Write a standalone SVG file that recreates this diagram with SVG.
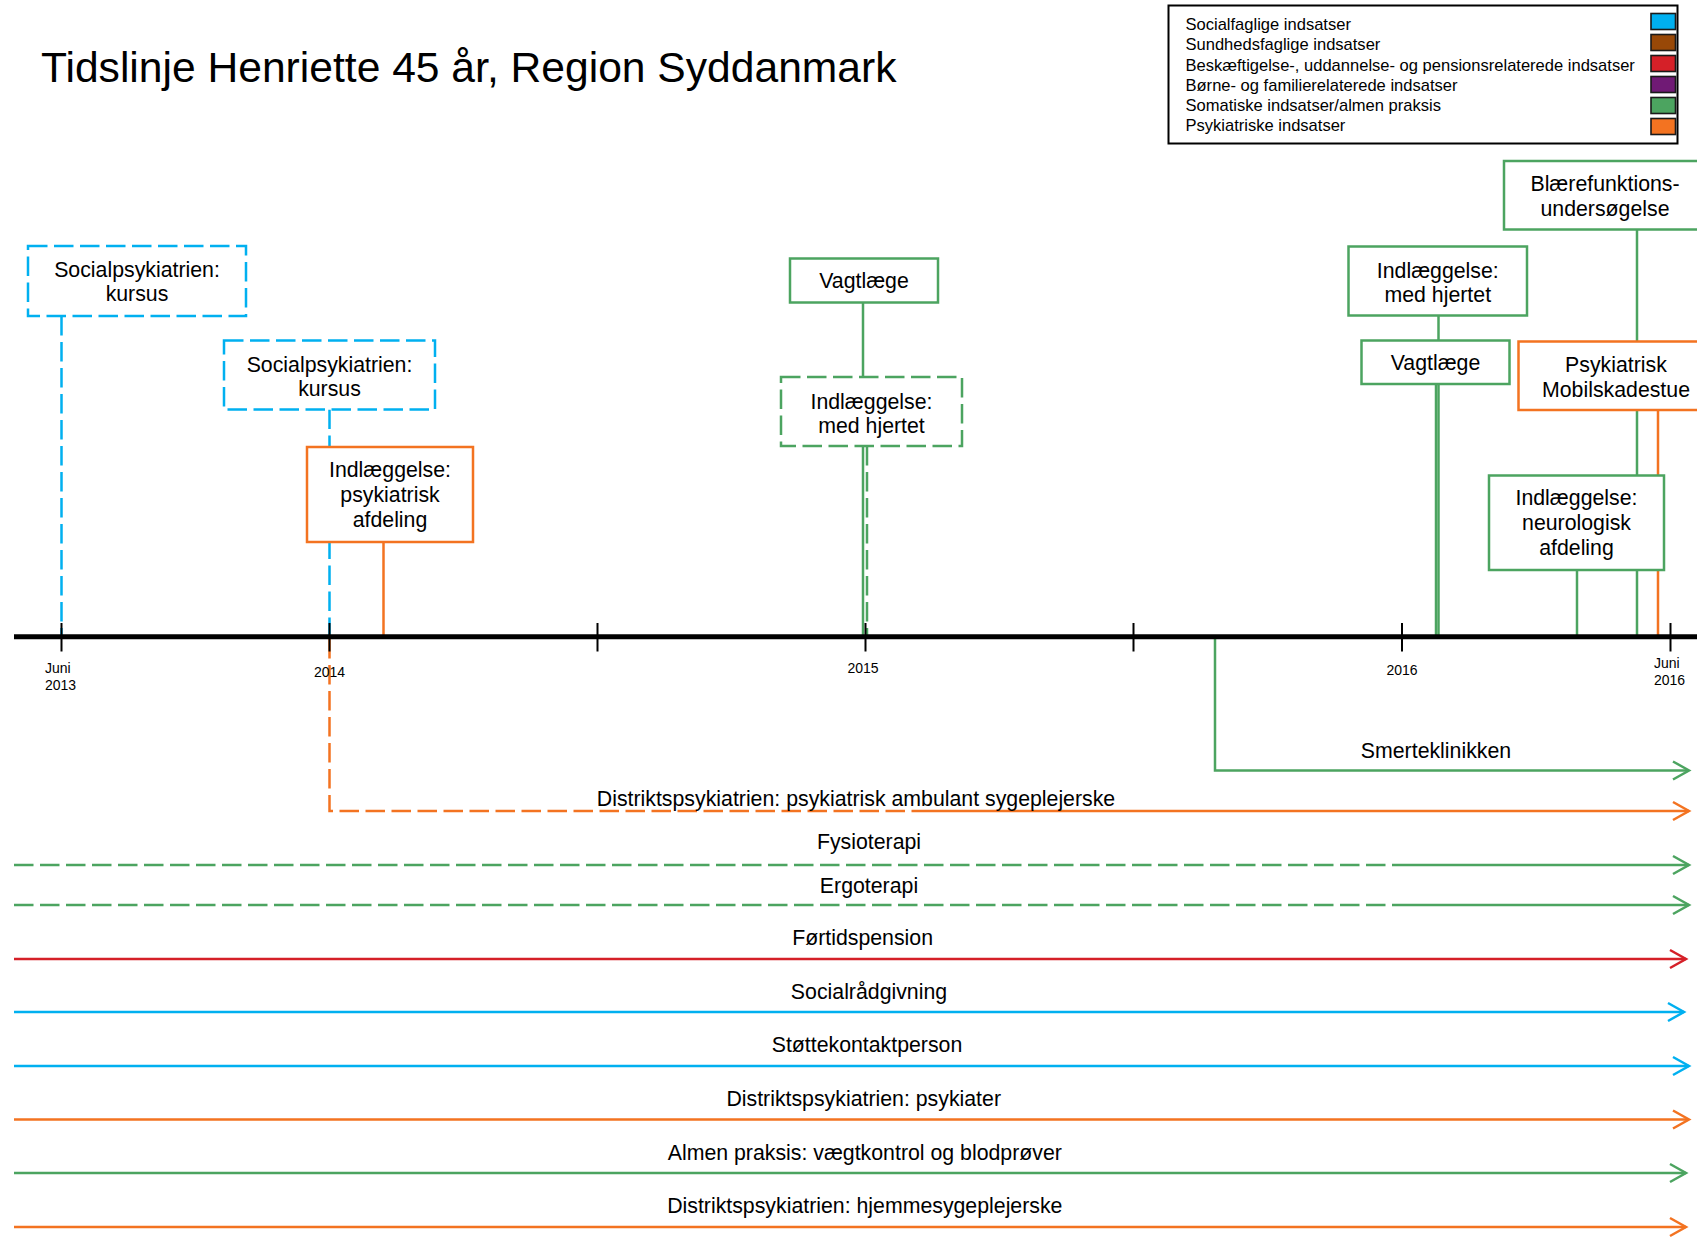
<svg xmlns="http://www.w3.org/2000/svg" width="1697" height="1238" viewBox="0 0 1697 1238">
  <style>
    text { font-family: "Liberation Sans", Arial, sans-serif; fill: #000; }
    .title { font-size: 42.6px; }
    .leg { font-size: 16.55px; }
    .lbl { font-size: 21.3px; text-anchor: middle; }
    .tick-lbl { font-size: 14px; }
    .box { fill: #fff; stroke-width: 2.5; }
    .dash { stroke-dasharray: 19.5 6.5; }
    .ln { fill: none; stroke-width: 2.5; }
    .soc { stroke: #00B0F0; }
    .som { stroke: #4CA460; }
    .psy { stroke: #F37321; }
    .bes { stroke: #D52028; }
    .swatch { stroke: #1a1a1a; stroke-width: 1.6; }
    .tick { stroke: #000; stroke-width: 2; }
  </style>
  <defs>
    <marker id="arr-som" markerUnits="userSpaceOnUse" viewBox="-20 -12 24 24" refX="0" refY="0" markerWidth="24" markerHeight="24" orient="auto">
      <path d="M-16,-9 L0,0 L-16,9" fill="none" stroke="#4CA460" stroke-width="2.5"/>
    </marker>
    <marker id="arr-psy" markerUnits="userSpaceOnUse" viewBox="-20 -12 24 24" refX="0" refY="0" markerWidth="24" markerHeight="24" orient="auto">
      <path d="M-16,-9 L0,0 L-16,9" fill="none" stroke="#F37321" stroke-width="2.5"/>
    </marker>
    <marker id="arr-soc" markerUnits="userSpaceOnUse" viewBox="-20 -12 24 24" refX="0" refY="0" markerWidth="24" markerHeight="24" orient="auto">
      <path d="M-16,-9 L0,0 L-16,9" fill="none" stroke="#00B0F0" stroke-width="2.5"/>
    </marker>
    <marker id="arr-bes" markerUnits="userSpaceOnUse" viewBox="-20 -12 24 24" refX="0" refY="0" markerWidth="24" markerHeight="24" orient="auto">
      <path d="M-16,-9 L0,0 L-16,9" fill="none" stroke="#D52028" stroke-width="2.5"/>
    </marker>
  </defs>

  <rect width="1697" height="1238" fill="#fff"/>

  <text class="title" x="41" y="82">Tidslinje Henriette 45 år, Region Syddanmark</text>

  <!-- Legend -->
  <g id="legend">
    <rect x="1168.5" y="5.5" width="509" height="138" fill="#fff" stroke="#000" stroke-width="2"/>
    <text class="leg" x="1185.5" y="30">Socialfaglige indsatser</text>
    <text class="leg" x="1185.5" y="50.3">Sundhedsfaglige indsatser</text>
    <text class="leg" x="1185.5" y="70.6">Beskæftigelse-, uddannelse- og pensionsrelaterede indsatser</text>
    <text class="leg" x="1185.5" y="90.9">Børne- og familierelaterede indsatser</text>
    <text class="leg" x="1185.5" y="111.2">Somatiske indsatser/almen praksis</text>
    <text class="leg" x="1185.5" y="131.3">Psykiatriske indsatser</text>
    <rect class="swatch" x="1651" y="13.5" width="24.5" height="16" fill="#00B0F0"/>
    <rect class="swatch" x="1651" y="34.5" width="24.5" height="16" fill="#984807"/>
    <rect class="swatch" x="1651" y="55.5" width="24.5" height="16" fill="#D52028"/>
    <rect class="swatch" x="1651" y="76.5" width="24.5" height="16" fill="#701A75"/>
    <rect class="swatch" x="1651" y="97.5" width="24.5" height="16" fill="#4CA460"/>
    <rect class="swatch" x="1651" y="118.5" width="24.5" height="16" fill="#F37321"/>
  </g>

  <!-- Connectors: event stems to the axis and ongoing services below it -->
  <g id="connectors">
    <line class="ln soc dash" x1="61.5" y1="316" x2="61.5" y2="636"/>
    <line class="ln soc dash" x1="329.5" y1="409.5" x2="329.5" y2="636"/>
    <line class="ln psy" x1="383.5" y1="542" x2="383.5" y2="636"/>
    <line class="ln som" x1="863" y1="302.5" x2="863" y2="636"/>
    <line class="ln som dash" x1="867" y1="446" x2="867" y2="636"/>
    <line class="ln som" x1="1438.5" y1="315.5" x2="1438.5" y2="636"/>
    <line class="ln som" x1="1436" y1="384" x2="1436" y2="636"/>
    <line class="ln som" x1="1637" y1="229.5" x2="1637" y2="636"/>
    <line class="ln psy" x1="1658" y1="410" x2="1658" y2="636"/>
    <line class="ln som" x1="1577" y1="570" x2="1577" y2="636"/>

    <!-- ongoing services -->
    <path class="ln som" d="M1215,639 V770.5 H1689" marker-end="url(#arr-som)"/>
    <path class="ln psy dash" d="M329.5,639 V811 H922"/>
    <path class="ln psy" d="M922,811 H1689" marker-end="url(#arr-psy)"/>
    <path class="ln som dash" d="M14,865 H1402"/>
    <path class="ln som" d="M1402,865 H1689" marker-end="url(#arr-som)"/>
    <path class="ln som dash" d="M14,905 H1402"/>
    <path class="ln som" d="M1402,905 H1689" marker-end="url(#arr-som)"/>
    <path class="ln bes" d="M14,959 H1686" marker-end="url(#arr-bes)"/>
    <path class="ln soc" d="M14,1012 H1684" marker-end="url(#arr-soc)"/>
    <path class="ln soc" d="M14,1066 H1689" marker-end="url(#arr-soc)"/>
    <path class="ln psy" d="M14,1119.5 H1689" marker-end="url(#arr-psy)"/>
    <path class="ln som" d="M14,1173 H1686" marker-end="url(#arr-som)"/>
    <path class="ln psy" d="M14,1227 H1686" marker-end="url(#arr-psy)"/>
  </g>

  <!-- Service labels -->
  <g id="service-labels">
    <text class="lbl" x="1436" y="757.5">Smerteklinikken</text>
    <text class="lbl" x="856" y="806">Distriktspsykiatrien: psykiatrisk ambulant sygeplejerske</text>
    <text class="lbl" x="869" y="848.5">Fysioterapi</text>
    <text class="lbl" x="869" y="893">Ergoterapi</text>
    <text class="lbl" x="862.6" y="944.5">Førtidspension</text>
    <text class="lbl" x="869" y="999">Socialrådgivning</text>
    <text class="lbl" x="867" y="1052">Støttekontaktperson</text>
    <text class="lbl" x="863.7" y="1106">Distriktspsykiatrien: psykiater</text>
    <text class="lbl" x="864.8" y="1160">Almen praksis: vægtkontrol og blodprøver</text>
    <text class="lbl" x="864.8" y="1213">Distriktspsykiatrien: hjemmesygeplejerske</text>
  </g>

  <!-- Time axis -->
  <g id="axis">
    <line x1="14" y1="636.7" x2="1697" y2="636.7" stroke="#000" stroke-width="5"/>
    <line class="tick" x1="61.5" y1="623" x2="61.5" y2="651.5"/>
    <line class="tick" x1="329.5" y1="623" x2="329.5" y2="651.5"/>
    <line class="tick" x1="597.5" y1="623" x2="597.5" y2="651.5"/>
    <line class="tick" x1="865.5" y1="623" x2="865.5" y2="651.5"/>
    <line class="tick" x1="1133.5" y1="623" x2="1133.5" y2="651.5"/>
    <line class="tick" x1="1402" y1="623" x2="1402" y2="651.5"/>
    <line class="tick" x1="1670.5" y1="623" x2="1670.5" y2="651.5"/>
    <text class="tick-lbl" x="45" y="673">Juni</text>
    <text class="tick-lbl" x="45" y="690">2013</text>
    <text class="tick-lbl" x="329.5" y="676.5" text-anchor="middle">2014</text>
    <text class="tick-lbl" x="863" y="673" text-anchor="middle">2015</text>
    <text class="tick-lbl" x="1402" y="675" text-anchor="middle">2016</text>
    <text class="tick-lbl" x="1654" y="668">Juni</text>
    <text class="tick-lbl" x="1654" y="685">2016</text>
  </g>

  <!-- Events -->
  <g id="socialpsyk-kursus-1">
    <rect class="box soc dash" x="28" y="246" width="218" height="70"/>
    <text class="lbl" x="137" y="277">Socialpsykiatrien:</text>
    <text class="lbl" x="137" y="301">kursus</text>
  </g>
  <g id="socialpsyk-kursus-2">
    <rect class="box soc dash" x="224" y="340.5" width="211" height="69"/>
    <text class="lbl" x="329.5" y="371.5">Socialpsykiatrien:</text>
    <text class="lbl" x="329.5" y="395.5">kursus</text>
  </g>
  <g id="indl-psyk-afdeling">
    <rect class="box psy" x="307" y="447" width="166" height="95"/>
    <text class="lbl" x="390" y="477">Indlæggelse:</text>
    <text class="lbl" x="390" y="502">psykiatrisk</text>
    <text class="lbl" x="390" y="527">afdeling</text>
  </g>
  <g id="vagtlaege-1">
    <rect class="box som" x="790" y="258.5" width="148" height="44"/>
    <text class="lbl" x="864" y="288">Vagtlæge</text>
  </g>
  <g id="indl-hjertet-1">
    <rect class="box som dash" x="781" y="377" width="181" height="69"/>
    <text class="lbl" x="871.5" y="408.5">Indlæggelse:</text>
    <text class="lbl" x="871.5" y="432.5">med hjertet</text>
  </g>
  <g id="indl-hjertet-2">
    <rect class="box som" x="1348.5" y="246.5" width="178.5" height="69"/>
    <text class="lbl" x="1437.8" y="277.5">Indlæggelse:</text>
    <text class="lbl" x="1437.8" y="301.5">med hjertet</text>
  </g>
  <g id="vagtlaege-2">
    <rect class="box som" x="1361.5" y="340.5" width="148" height="43.5"/>
    <text class="lbl" x="1435.5" y="369.8">Vagtlæge</text>
  </g>
  <g id="blaerefunktion">
    <rect class="box som" x="1504" y="161" width="202" height="68.5"/>
    <text class="lbl" x="1605" y="191">Blærefunktions-</text>
    <text class="lbl" x="1605" y="215.5">undersøgelse</text>
  </g>
  <g id="psyk-mobilskadestue">
    <rect class="box psy" x="1518.5" y="341.5" width="195" height="68.5"/>
    <text class="lbl" x="1616" y="372">Psykiatrisk</text>
    <text class="lbl" x="1616" y="396.5">Mobilskadestue</text>
  </g>
  <g id="indl-neurologisk">
    <rect class="box som" x="1489" y="475.5" width="175" height="94.5"/>
    <text class="lbl" x="1576.5" y="505">Indlæggelse:</text>
    <text class="lbl" x="1576.5" y="530">neurologisk</text>
    <text class="lbl" x="1576.5" y="555">afdeling</text>
  </g>
</svg>
